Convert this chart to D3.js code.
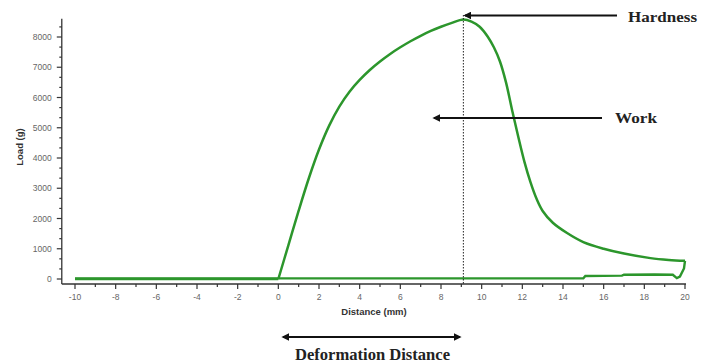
<!DOCTYPE html>
<html><head><meta charset="utf-8">
<script src="https://cdn.jsdelivr.net/npm/d3@7"></script>
<style>body{margin:0;background:#fff}svg{display:block}</style>
</head><body>
<svg id="c" width="712" height="364"></svg>
<script>
// Loading curve (probe going in and coming back up)
const curveDistance = [0, 0.5, 1.0, 1.5, 2.0, 2.5, 3.0, 3.5, 4.0, 4.5, 5.0, 5.5, 6.0, 6.5, 7.0, 7.5, 8.0, 8.5, 9.1, 9.5, 9.9, 10.3, 10.6, 10.9, 11.2, 11.5, 11.8, 12.1, 12.4, 12.7, 13.0, 13.5, 14.2, 15.0, 16.0, 17.0, 18.3, 19.2, 20.0];
const curveLoad     = [0, 1130, 2260, 3330, 4280, 5070, 5700, 6190, 6580, 6910, 7190, 7440, 7660, 7860, 8040, 8200, 8340, 8460, 8580, 8510, 8340, 8010, 7660, 7190, 6490, 5570, 4700, 3880, 3200, 2650, 2250, 1860, 1520, 1220, 1000, 840, 690, 630, 600];
// Return trace and baseline
const returnDistance = [20.0, 19.95, 19.75, 19.6, 19.4, 18.5, 17.0, 16.9, 15.1, 15.0, -10];
const returnLoad     = [600, 350, 80, 30, 140, 150, 140, 110, 100, 20, 20];
const baseDistance = [-10, 0];
const baseLoad = [0, 0];
const xTicks = [-10, -8, -6, -4, -2, 0, 2, 4, 6, 8, 10, 12, 14, 16, 18, 20];
const yTicks = [0, 1000, 2000, 3000, 4000, 5000, 6000, 7000, 8000];
const peakDistance = 9.1;

const svg = d3.select("#c");
const x = d3.scaleLinear().domain([-10, 20]).range([75, 685]);
const y = d3.scaleLinear().domain([0, 8000]).range([279, 37]);
const axisX = x(-10.65), axisY = y(-165);
const green = "#2c962c";

// axes lines
svg.append("line").attr("x1", axisX).attr("x2", x(20.05)).attr("y1", axisY).attr("y2", axisY).attr("stroke", "#333").attr("stroke-width", 1.3);
svg.append("line").attr("x1", axisX).attr("x2", axisX).attr("y1", y(8600)).attr("y2", axisY).attr("stroke", "#333").attr("stroke-width", 1.3);

// x ticks
const xMinor = d3.range(-9, 20, 2);
svg.selectAll(".xt").data(xTicks).enter().append("line")
  .attr("x1", d => x(d)).attr("x2", d => x(d)).attr("y1", axisY).attr("y2", axisY + 5).attr("stroke", "#333").attr("stroke-width", 1.2);
svg.selectAll(".xm").data(xMinor).enter().append("line")
  .attr("x1", d => x(d)).attr("x2", d => x(d)).attr("y1", axisY).attr("y2", axisY + 3).attr("stroke", "#333").attr("stroke-width", 1.2);
svg.selectAll(".xl").data(xTicks).enter().append("text")
  .attr("x", d => x(d)).attr("y", 300).attr("text-anchor", "middle")
  .attr("font-family", "Arial, Liberation Sans, sans-serif").attr("font-size", 8.5).attr("fill", "#666")
  .text(d => d);

// y ticks
const yMinor = d3.range(0, 8600, 1000 / 3).filter((d, i) => i % 3 !== 0);
svg.selectAll(".yt").data(yTicks).enter().append("line")
  .attr("x1", axisX - 5).attr("x2", axisX).attr("y1", d => y(d)).attr("y2", d => y(d)).attr("stroke", "#333").attr("stroke-width", 1.2);
svg.selectAll(".ym").data(yMinor).enter().append("line")
  .attr("x1", axisX - 2.5).attr("x2", axisX).attr("y1", d => y(d)).attr("y2", d => y(d)).attr("stroke", "#333").attr("stroke-width", 1.2);
svg.selectAll(".yl").data(yTicks).enter().append("text")
  .attr("x", axisX - 10).attr("y", d => y(d) + 3).attr("text-anchor", "end")
  .attr("font-family", "Arial, Liberation Sans, sans-serif").attr("font-size", 8.5).attr("fill", "#666")
  .text(d => d);

// axis titles
svg.append("text").attr("x", 374).attr("y", 315).attr("text-anchor", "middle")
  .attr("font-family", "Arial, Liberation Sans, sans-serif").attr("font-size", 9.5).attr("font-weight", "bold").attr("fill", "#333")
  .text("Distance (mm)");
svg.append("text").attr("transform", "translate(23,147) rotate(-90)").attr("text-anchor", "middle")
  .attr("font-family", "Arial, Liberation Sans, sans-serif").attr("font-size", 9.5).attr("font-weight", "bold").attr("fill", "#333")
  .text("Load (g)");

// data lines
const lineLin = d3.line().x(d => x(d[0])).y(d => y(d[1]));
const lineSmooth = d3.line().x(d => x(d[0])).y(d => y(d[1])).curve(d3.curveCatmullRom.alpha(0.5));
svg.append("path").attr("d", lineLin(d3.zip(baseDistance, baseLoad))).attr("fill", "none").attr("stroke", green).attr("stroke-width", 2.6);
svg.append("path").attr("d", lineLin(d3.zip(returnDistance, returnLoad))).attr("fill", "none").attr("stroke", green).attr("stroke-width", 2.4);
svg.append("path").attr("d", lineSmooth(d3.zip(curveDistance, curveLoad))).attr("fill", "none").attr("stroke", green).attr("stroke-width", 2.5);

// dotted peak line
svg.append("line").attr("x1", x(peakDistance)).attr("x2", x(peakDistance)).attr("y1", 15).attr("y2", axisY)
  .attr("stroke", "#222").attr("stroke-width", 1).attr("stroke-dasharray", "1.5,1.5");

// arrows
const defs = svg.append("defs");
defs.append("marker").attr("id", "ah").attr("viewBox", "0 0 10 10").attr("refX", 8).attr("refY", 5)
  .attr("markerWidth", 4).attr("markerHeight", 4).attr("orient", "auto-start-reverse")
  .append("path").attr("d", "M0,0 L10,5 L0,10 z").attr("fill", "#111");

svg.append("line").attr("x1", 617).attr("x2", 465).attr("y1", 15.5).attr("y2", 15.5)
  .attr("stroke", "#111").attr("stroke-width", 2).attr("marker-end", "url(#ah)");
svg.append("line").attr("x1", 602).attr("x2", 434).attr("y1", 118).attr("y2", 118)
  .attr("stroke", "#111").attr("stroke-width", 2).attr("marker-end", "url(#ah)");
svg.append("line").attr("x1", 283).attr("x2", 460).attr("y1", 337).attr("y2", 337)
  .attr("stroke", "#111").attr("stroke-width", 2).attr("marker-start", "url(#ah)").attr("marker-end", "url(#ah)");

const serif = "Times New Roman, Liberation Serif, DejaVu Serif, serif";
svg.append("text").attr("x", 628).attr("y", 22).attr("font-family", serif).attr("font-weight", "bold")
  .attr("font-size", 15).attr("fill", "#222").attr("textLength", 69).attr("lengthAdjust", "spacingAndGlyphs").text("Hardness");
svg.append("text").attr("x", 615).attr("y", 123).attr("font-family", serif).attr("font-weight", "bold")
  .attr("font-size", 15).attr("fill", "#222").attr("textLength", 42).attr("lengthAdjust", "spacingAndGlyphs").text("Work");
svg.append("text").attr("x", 295).attr("y", 360).attr("font-family", serif).attr("font-weight", "bold")
  .attr("font-size", 16).attr("fill", "#222").attr("textLength", 155).attr("lengthAdjust", "spacingAndGlyphs").text("Deformation Distance");
</script>
</body></html>
